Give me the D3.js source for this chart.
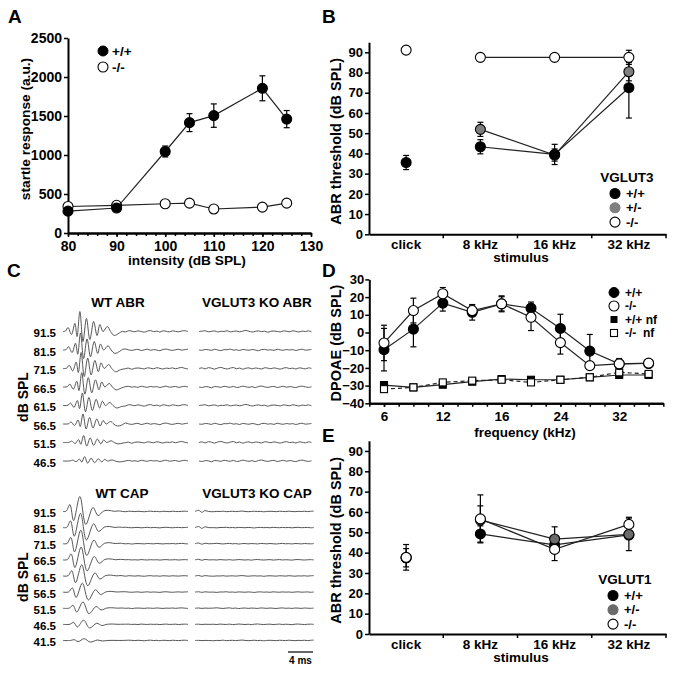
<!DOCTYPE html>
<html><head><meta charset="utf-8">
<script src="https://cdn.jsdelivr.net/npm/d3@7"></script>
<style>body{margin:0;background:#fff}svg{display:block}</style>
</head><body><svg id="fig" width="680" height="673"></svg>
<script>
// ================= DATA =================
// Panel A: startle
const startleIntensity = [80, 90, 100, 105, 110, 120, 125];
const startleWT    = [280, 320, 1045, 1415, 1505, 1855, 1460];
const startleWTErr = [0, 0, 70, 115, 150, 160, 110];
const startleKO    = [340, 355, 375, 383, 308, 332, 383];
const startleKOErr = [0, 0, 0, 0, 0, 0, 0];
const startleXTicks = [80, 90, 100, 110, 120, 130];
const startleYTicks = [0, 500, 1000, 1500, 2000, 2500];

// Panel B: VGLUT3 ABR thresholds
const stimuli = ["click", "8 kHz", "16 kHz", "32 kHz"];
const v3WT     = [35.5, 43.3, 39.5, 72.5];
const v3WTErr  = [3.5, 3.5, 5, 15];
const v3Het    = [null, 51.9, 39.2, 80.4];
const v3HetErr = [0, 3.5, 3, 4.5];
const v3KO     = [91.1, 87.5, 87.5, 87.5];
const v3KOErr  = [0, 0, 0, 3.5];
const thrTicks = [0, 10, 20, 30, 40, 50, 60, 70, 80, 90];

// Panel C: traces (ms, amplitude units)
const abrLevels = ["91.5", "81.5", "71.5", "66.5", "61.5", "56.5", "51.5", "46.5"];
const abrWTAmp   = [1.0, 0.85, 0.8, 0.72, 0.62, 0.5, 0.35, 0.22];
const abrWTShift = [0, 0.1, 0.2, 0.3, 0.4, 0.5, 0.6, 0.75];
const abrWTTemplate = [[0,0],[0.4,0.5],[0.8,4],[1.35,-3],[1.9,8],[2.25,-5],[2.7,20],[3.2,-10],[3.75,13],[4.3,-8],[4.9,10],[5.45,-4],[5.9,7],[6.4,0],[7.1,5],[7.6,0],[8.2,-4],[9.0,-1.5]];
const capLevels = ["91.5", "81.5", "71.5", "66.5", "61.5", "56.5", "51.5", "46.5", "41.5"];
const capWTAmp   = [1.0, 0.95, 0.9, 0.85, 0.75, 0.6, 0.42, 0.28, 0.12];
const capWTShift = [0, 0.1, 0.15, 0.2, 0.3, 0.4, 0.5, 0.6, 0.7];
const capWTTemplate = [[0,0],[0.5,0.3],[1.1,7],[1.7,-9],[2.7,15],[3.65,-13],[4.8,4],[5.6,-4],[6.5,0.5],[7.3,1.2],[8.2,0.2],[9.0,0.6]];
const koCapTemplate = [[0,0],[0.6,1.2],[1.1,-0.8],[1.6,0.9],[2.2,0]];
const koCapAmp = [1.0, 0.9, 0.6, 0.5, 0.4, 0.3, 0.2, 0.15, 0.1];
const noise1 = [0.0,0.5,-0.3,0.7,0.2,-0.5,0.4,0.9,0.1,-0.4,0.3,0.8,-0.2,0.4,-0.6,0.2,0.5,-0.3,0.4,0.1,-0.4,0.6,0.3,-0.2,0.5,0.0,-0.5,0.3,0.7,-0.1,0.3,-0.4,0.5,0.2,-0.3,0.5,0.1,-0.2,0.4,0.6,0.0,0.3];
const noise2 = [0.0,-0.4,0.3,0.1,-0.6,0.4,0.2,-0.3,0.6,0.1,-0.2,0.5,-0.4,0.0,0.7,0.2,-0.3,0.3,-0.5,0.4,0.8,0.1,-0.3,0.2,0.5,-0.4,0.1,0.6,-0.2,0.3,0.0,-0.5,0.4,0.7,0.1,-0.3,0.2,0.5,-0.1,0.3,0.6,0.2];
const noise3 = [0.0,0.3,0.6,-0.2,0.1,0.5,-0.4,0.2,0.0,0.6,-0.3,0.1,0.4,-0.2,0.3,0.9,0.2,-0.4,0.1,0.5,-0.1,0.3,-0.6,0.2,0.4,0.1,-0.3,0.5,0.2,-0.2,0.6,0.1,-0.4,0.3,0.0,0.5,-0.2,0.4,0.8,0.1,-0.3,0.2];
const noise4 = [0.0,-0.2,0.4,0.2,-0.3,0.6,0.0,-0.5,0.3,0.2,0.7,-0.1,0.2,-0.4,0.5,0.1,-0.2,0.4,0.0,-0.6,0.3,0.5,-0.1,0.2,-0.3,0.6,0.1,-0.2,0.4,0.0,0.3,-0.4,0.2,0.6,-0.1,0.1,0.4,-0.3,0.2,0.5,0.0,-0.2];
const noises = [noise1, noise2, noise3, noise4];

// Panel D: DPOAE
const dpFreqLabels = ["6", "12", "16", "24", "32"];
const dpFreqLabelIdx = [0, 2, 4, 6, 8];
const dpIdx = [0, 1, 2, 3, 4, 5, 6, 7, 8, 9];
const dpWT     = [-9.7, 1.9, 16.6, 11.4, 16.2, 13.7, 2.3, -10.5, -17.7, -17.5];
const dpWTErr  = [12, 10, 4.5, 4.4, 4, 3.5, 8, 9.4, 2, 1];
const dpKO     = [-5.9, 12.4, 21.9, 12.4, 16.2, 8.6, -5.7, -18.7, -17.7, -17.3];
const dpKOErr  = [10, 7, 3.5, 3, 4.5, 7.5, 6.5, 2, 3, 1];
const nfWT     = [-29.7, -31, -29.5, -27.8, -26.3, -26.7, -26.7, -25.3, -24, -24];
const nfKO     = [-32, -31, -28.2, -27.2, -26.7, -28.2, -26.7, -25.3, -22.5, -23.4];
const dpYTicks = [-40, -30, -20, -10, 0, 10, 20, 30];

// Panel E: VGLUT1 ABR thresholds
const v1WT     = [37.5, 49.2, 43.8, 48.7];
const v1WTErr  = [4.5, 4, 0, 0];
const v1Het    = [37.5, 56, 46.7, 49];
const v1HetErr = [0, 7, 6, 8];
const v1KO     = [37.7, 56.6, 41.6, 53.9];
const v1KOErr  = [6.3, 11.8, 5.5, 3.5];

// ================= DRAWING =================
const FONT = '"Liberation Sans", Arial, Helvetica, sans-serif';
const svg = d3.select("#fig");
svg.append("rect").attr("width", 680).attr("height", 673).attr("fill", "#fff");

function txt(x, y, s, size, anchor, rot) {
  const t = svg.append("text").attr("font-family", FONT).attr("font-weight", "bold")
    .attr("font-size", size).attr("fill", "#000").attr("text-anchor", anchor || "start").text(s);
  if (rot) t.attr("transform", `translate(${x},${y}) rotate(${rot})`);
  else t.attr("x", x).attr("y", y);
  return t;
}
function styleAxis(g, fs) {
  g.attr("font-family", FONT).attr("font-weight", "bold");
  g.select(".domain").attr("stroke", "#000").attr("stroke-width", 2);
  g.selectAll(".tick line").attr("stroke", "#000").attr("stroke-width", 1.5);
  g.selectAll(".tick text").attr("font-size", fs).attr("fill", "#000");
}
function errBars(g, xs, ys, es, xf, yf) {
  xs.forEach((x, i) => {
    if (ys[i] == null || !es[i]) return;
    const cx = xf(x), y1 = yf(ys[i] - es[i]), y2 = yf(ys[i] + es[i]);
    g.append("line").attr("x1", cx).attr("x2", cx).attr("y1", y1).attr("y2", y2).attr("stroke", "#000").attr("stroke-width", 1.2);
    [y1, y2].forEach(yy => g.append("line").attr("x1", cx - 3).attr("x2", cx + 3).attr("y1", yy).attr("y2", yy).attr("stroke", "#000").attr("stroke-width", 1.2));
  });
}
function series(g, xs, ys, xf, yf, opt) {
  const pts = xs.map((x, i) => ({x, y: ys[i], i})).filter(d => d.y != null);
  const linePts = opt.lineFrom != null ? pts.filter(d => d.i >= opt.lineFrom) : pts;
  if (opt.line !== false) {
    g.append("path").attr("d", d3.line().x(d => xf(d.x)).y(d => yf(d.y))(linePts))
      .attr("fill", "none").attr("stroke", "#222").attr("stroke-width", 1.2)
      .attr("stroke-dasharray", opt.dash || null);
  }
  const sym = g.selectAll(null).data(pts).enter();
  if (opt.square) {
    sym.append("rect").attr("x", d => xf(d.x) - 3.5).attr("y", d => yf(d.y) - 3.5).attr("width", 7).attr("height", 7)
      .attr("fill", opt.fill).attr("stroke", "#000").attr("stroke-width", 1.1);
  } else {
    sym.append("circle").attr("cx", d => xf(d.x)).attr("cy", d => yf(d.y)).attr("r", opt.r || 5)
      .attr("fill", opt.fill).attr("stroke", opt.stroke || "#000").attr("stroke-width", 1.1);
  }
}

// ---------- Panel A ----------
{
  const xA = d3.scaleLinear([80, 130], [68, 311]);
  const yA = d3.scaleLinear([0, 2500], [233, 38]);
  const gm = svg.append("g").attr("transform", "translate(0,233)")
    .call(d3.axisBottom(xA).tickValues(d3.range(80, 131, 2)).tickSize(3).tickFormat("").tickSizeOuter(0));
  styleAxis(gm, 14);
  const gx = svg.append("g").attr("transform", "translate(0,233)")
    .call(d3.axisBottom(xA).tickValues(startleXTicks).tickSize(4).tickPadding(4).tickSizeOuter(0));
  styleAxis(gx, 14);
  const gy = svg.append("g").attr("transform", "translate(68,0)")
    .call(d3.axisLeft(yA).tickValues(startleYTicks).tickFormat(d3.format("d")).tickSize(4).tickPadding(2).tickSizeOuter(0));
  styleAxis(gy, 14);
  const g = svg.append("g");
  errBars(g, startleIntensity, startleWT, startleWTErr, xA, yA);
  series(g, startleIntensity, startleKO, xA, yA, {fill: "#fff"});
  series(g, startleIntensity, startleWT, xA, yA, {fill: "#000"});
  // legend
  g.append("circle").attr("cx", 103).attr("cy", 51).attr("r", 5).attr("fill", "#000").attr("stroke", "#000");
  g.append("circle").attr("cx", 103).attr("cy", 67).attr("r", 5).attr("fill", "#fff").attr("stroke", "#000").attr("stroke-width", 1.1);
  txt(112, 56, "+/+", 13.5);
  txt(112, 72, "-/-", 13.5);
  txt(187, 265, "intensity (dB SPL)", 13.7, "middle");
  txt(30, 129, "startle response (a.u.)", 13.7, "middle", -90);
  txt(8, 23, "A", 19);
}

// ---------- threshold panels (B, E) ----------
function thresholdPanel(y0, y95, data, title, legendY, letter, letterY) {
  const xB = d3.scaleBand(stimuli, [369, 666]);
  const yB = d3.scaleLinear([0, 95], [y0, y95]);
  const cx = s => xB(s) + xB.bandwidth() / 2;
  const gx = svg.append("g").attr("transform", `translate(0,${y0})`)
    .call(d3.axisBottom(xB).tickSize(0).tickPadding(5).tickSizeOuter(0));
  styleAxis(gx, 13.5);
  stimuli.forEach(s => gx.append("line").attr("x1", xB(s) + xB.bandwidth()).attr("x2", xB(s) + xB.bandwidth())
    .attr("y1", 0).attr("y2", 4).attr("stroke", "#000").attr("stroke-width", 1.5));
  const gy = svg.append("g").attr("transform", "translate(369,0)")
    .call(d3.axisLeft(yB).tickValues(thrTicks).tickSize(4).tickPadding(2).tickSizeOuter(0));
  styleAxis(gy, 13);
  const g = svg.append("g");
  const xf = i => cx(stimuli[i]);
  const idx = stimuli.map((s, i) => i);
  data.forEach(d => errBars(g, idx, d.v, d.e, xf, yB));
  data.forEach(d => series(g, idx, d.v, xf, yB, {fill: d.fill, lineFrom: 1}));
  txt(521, y0 + 28, "stimulus", 13.5, "middle");
  txt(341, (y0 + y95) / 2 + 3, "ABR threshold (dB SPL)", 14.5, "middle", -90);
  txt(legendY.x, legendY.y, title, 13.5, "middle");
  data.slice().sort((a, b) => a.legendOrder - b.legendOrder).forEach((d, k) => {
    const yy = legendY.y + 12 + k * 14.3;
    g.append("circle").attr("cx", legendY.x - 12).attr("cy", yy).attr("r", 5).attr("fill", d.fill).attr("stroke", d.fill === "#fff" ? "#000" : d.fill).attr("stroke-width", 1.1);
    txt(legendY.x - 1, yy + 4.5, d.label, 13);
  });
  txt(322, letterY, letter, 19);
}
thresholdPanel(234.3, 42.2, [
  {v: v3KO, e: v3KOErr, fill: "#fff", label: "-/-", legendOrder: 2},
  {v: v3Het, e: v3HetErr, fill: "#7f7f7f", label: "+/-", legendOrder: 1},
  {v: v3WT, e: v3WTErr, fill: "#000", label: "+/+", legendOrder: 0}
], "VGLUT3", {x: 627, y: 181.5}, "B", 23);
thresholdPanel(634, 440.8, [
  {v: v1WT, e: v1WTErr, fill: "#000", label: "+/+", legendOrder: 0},
  {v: v1Het, e: v1HetErr, fill: "#6a6a6a", label: "+/-", legendOrder: 1},
  {v: v1KO, e: v1KOErr, fill: "#fff", label: "-/-", legendOrder: 2}
], "VGLUT1", {x: 625, y: 583.5}, "E", 442);

// ---------- Panel D ----------
{
  const xD = d3.scaleLinear([-0.5, 9.5], [369.3, 663.3]);
  const yD = d3.scaleLinear([-40, 30], [403.3, 279.4]);
  const gm = svg.append("g").attr("transform", "translate(0,403.3)")
    .call(d3.axisBottom(xD).tickValues(d3.range(-0.5, 9.6, 0.5)).tickSize(3.5).tickFormat("").tickSizeOuter(0));
  styleAxis(gm, 13.5);
  const gx = svg.append("g").attr("transform", "translate(0,403.3)")
    .call(d3.axisBottom(xD).tickValues(dpFreqLabelIdx).tickSize(3.5).tickPadding(5)
      .tickFormat((d, i) => dpFreqLabels[i]).tickSizeOuter(0));
  styleAxis(gx, 13.5);
  const gy = svg.append("g").attr("transform", "translate(369.3,0)")
    .call(d3.axisLeft(yD).tickValues(dpYTicks).tickSize(4).tickPadding(1).tickSizeOuter(0));
  styleAxis(gy, 13);
  const g = svg.append("g");
  series(g, dpIdx, nfWT, xD, yD, {fill: "#000", square: true});
  series(g, dpIdx, nfKO, xD, yD, {fill: "#fff", square: true, dash: "4,3"});
  errBars(g, dpIdx, dpWT, dpWTErr, xD, yD);
  errBars(g, dpIdx, dpKO, dpKOErr, xD, yD);
  series(g, dpIdx, dpWT, xD, yD, {fill: "#000"});
  series(g, dpIdx, dpKO, xD, yD, {fill: "#fff"});
  // legend
  const lx = 614;
  const rows = [292.5, 306, 319.5, 333];
  g.append("circle").attr("cx", lx).attr("cy", rows[0]).attr("r", 5).attr("fill", "#000").attr("stroke", "#000");
  g.append("circle").attr("cx", lx).attr("cy", rows[1]).attr("r", 5).attr("fill", "#fff").attr("stroke", "#000").attr("stroke-width", 1.1);
  g.append("rect").attr("x", lx - 3.5).attr("y", rows[2] - 3.5).attr("width", 7).attr("height", 7).attr("fill", "#000");
  g.append("rect").attr("x", lx - 3.5).attr("y", rows[3] - 3.5).attr("width", 7).attr("height", 7).attr("fill", "#fff").attr("stroke", "#000").attr("stroke-width", 1.1);
  txt(625, rows[0] + 4.2, "+/+", 12);
  txt(625, rows[1] + 4.2, "-/-", 12);
  txt(625, rows[2] + 4.2, "+/+ nf", 12);
  txt(625, rows[3] + 4.2, "-/-  nf", 12).style("white-space", "pre");
  txt(525, 437, "frequency (kHz)", 13.5, "middle");
  txt(341, 343, "DPOAE (dB SPL)", 14.5, "middle", -90);
  txt(322, 277, "D", 19);
}

// ---------- Panel C ----------
{
  const trace = d3.line().curve(d3.curveCatmullRom.alpha(0.5));
  function buildPts(template, amp, shift, noise, noiseAmp, dur) {
    const pts = template.map(([t, v]) => [t + (t > 0 ? shift : 0), v * amp]);
    const tEnd = pts[pts.length - 1][0];
    noise.forEach((v, i) => { const t = i * 0.5; if (t > tEnd + 0.3 && t <= dur) pts.push([t, v * noiseAmp]); });
    return pts;
  }
  function drawBlock(levels, yRange, wt, ko, labelSize) {
    const yRow = d3.scalePoint(levels, yRange);
    const xWT = d3.scaleLinear([0, 20], [63, 188]);
    const xKO = d3.scaleLinear([0, ko.dur], [ko.x0, ko.x0 + ko.dur * 6.25]);
    levels.forEach((lv, i) => {
      const base = yRow(lv) - 1.5;
      const yAmp = d3.scaleLinear([-1, 1], [base + 1, base - 1]);
      txt(56, yRow(lv) + 4, lv, labelSize, "end");
      const p1 = buildPts(wt.template, wt.amp[i], wt.shift[i], noises[i % 4], wt.noiseAmp, 20);
      svg.append("path").attr("d", trace.x(d => xWT(d[0])).y(d => yAmp(d[1]))(p1))
        .attr("fill", "none").attr("stroke", "#444").attr("stroke-width", 0.9);
      const p2 = buildPts(ko.template, ko.amp ? ko.amp[i] : 1, 0, noises[(i + 2) % 4], ko.noiseAmp, ko.dur);
      svg.append("path").attr("d", trace.x(d => xKO(d[0])).y(d => yAmp(d[1]))(p2))
        .attr("fill", "none").attr("stroke", "#444").attr("stroke-width", 0.9);
    });
  }
  drawBlock(abrLevels, [333, 462.5],
    {template: abrWTTemplate, amp: abrWTAmp, shift: abrWTShift, noiseAmp: 1.3},
    {template: [[0, 0]], noiseAmp: 1.2, dur: 18.2, x0: 199}, 11.5);
  drawBlock(capLevels, [513, 642],
    {template: capWTTemplate, amp: capWTAmp, shift: capWTShift, noiseAmp: 0.5},
    {template: koCapTemplate, amp: koCapAmp, noiseAmp: 0.5, dur: 19.4, x0: 195}, 11.5);
  txt(118, 307, "WT ABR", 13.5, "middle");
  txt(257, 307, "VGLUT3 KO ABR", 13.5, "middle");
  txt(122, 498, "WT CAP", 13.5, "middle");
  txt(257, 498, "VGLUT3 KO CAP", 13.5, "middle");
  txt(28, 397, "dB SPL", 14, "middle", -90);
  txt(28, 577, "dB SPL", 14, "middle", -90);
  // scale bar: 4 ms
  const xBar = d3.scaleLinear([0, 20], [63, 188]);
  svg.append("line").attr("x1", 313 - (xBar(4) - xBar(0))).attr("x2", 313).attr("y1", 652).attr("y2", 652)
    .attr("stroke", "#000").attr("stroke-width", 1.2);
  txt(300.5, 664, "4 ms", 10, "middle");
  txt(7, 277, "C", 19);
}
</script></body></html>
